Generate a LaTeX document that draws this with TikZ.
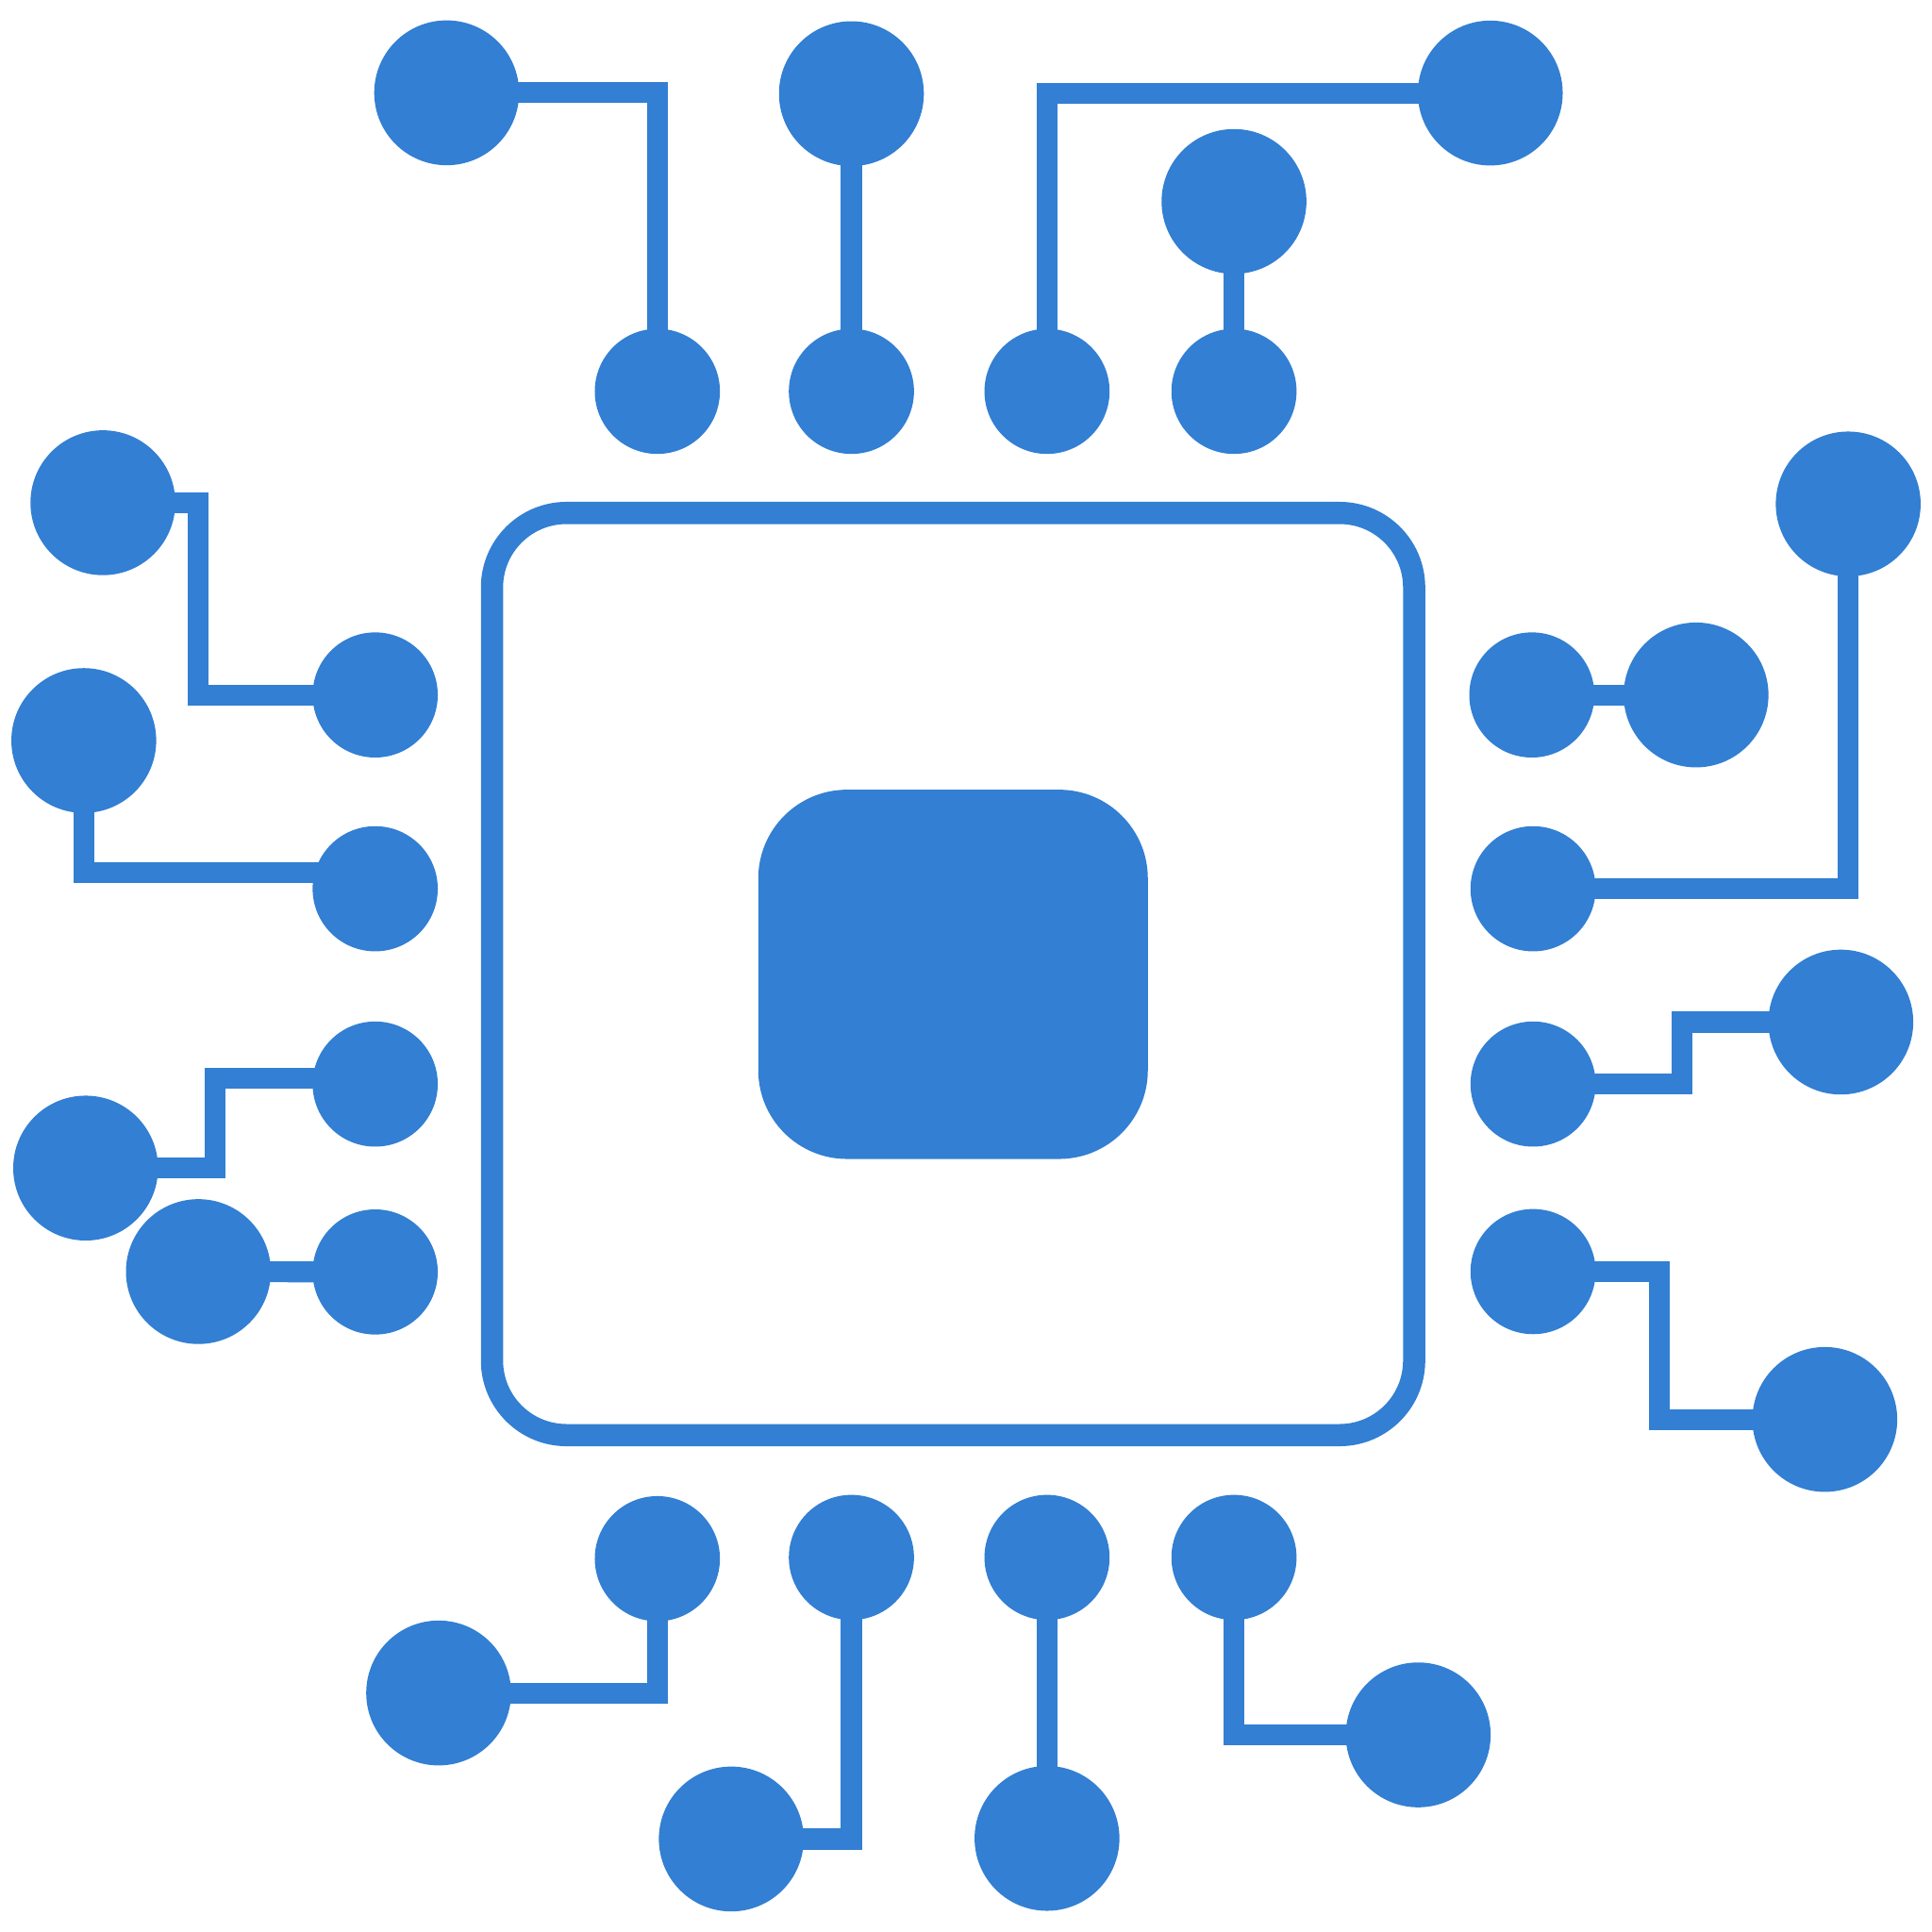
\documentclass[tikz,border=0pt]{standalone}
\definecolor{chipblue}{HTML}{327FD3}
\tikzset{
  bigpad/.style={circle,fill=chipblue,draw=none,minimum size=1.175cm,inner sep=0pt},
  smallpad/.style={circle,fill=chipblue,draw=none,minimum size=1.015cm,inner sep=0pt},
  wire/.style={draw=chipblue,line width=0.17cm,line join=miter,line cap=butt},
}
\begin{document}
\begin{tikzpicture}[x=0.01cm,y=-0.01cm]
\useasboundingbox (0,0) rectangle (1568,1568);
% chip
\node[draw=chipblue,line width=0.18cm,rounded corners=0.605cm,minimum width=7.48cm,minimum height=7.48cm,inner sep=0pt,outer sep=0pt] (chip) at (773.5,790.5) {};
\node[fill=chipblue,rounded corners=0.72cm,minimum width=3.16cm,minimum height=2.995cm,inner sep=0pt,outer sep=0pt] (core) at (773.5,790.75) {};
% top pads
\node[bigpad] (t1) at (362.5,75.3) {};
\node[bigpad] (t2) at (691,76) {};
\node[bigpad] (t3) at (1209.5,75.5) {};
\node[bigpad] (t4) at (1001.5,163.5) {};
\node[smallpad] (ts1) at (533.5,317.6) {};
\node[smallpad] (ts2) at (691,317.6) {};
\node[smallpad] (ts3) at (849.75,317.6) {};
\node[smallpad] (ts4) at (1001.5,317.6) {};
% left pads
\node[bigpad] (l1) at (83.5,408) {};
\node[bigpad] (l2) at (68,601) {};
\node[bigpad] (l3) at (69.5,948) {};
\node[bigpad] (l4) at (161,1032) {};
\node[smallpad] (ls1) at (304.5,564) {};
\node[smallpad] (ls2) at (304.5,721.3) {};
\node[smallpad] (ls3) at (304.5,879.8) {};
\node[smallpad] (ls4) at (304.5,1032.3) {};
% right pads
\node[bigpad] (r1) at (1376.5,564) {};
\node[bigpad] (r2) at (1500,409) {};
\node[bigpad] (r3) at (1494,829.5) {};
\node[bigpad] (r4) at (1481,1152) {};
\node[smallpad] (rs1) at (1243.25,564) {};
\node[smallpad] (rs2) at (1244.25,721.3) {};
\node[smallpad] (rs3) at (1244.25,879.8) {};
\node[smallpad] (rs4) at (1244.25,1032) {};
% bottom pads
\node[bigpad] (b1) at (356,1374) {};
\node[bigpad] (b2) at (593.5,1492.5) {};
\node[bigpad] (b3) at (849.75,1492) {};
\node[bigpad] (b4) at (1151,1408) {};
\node[smallpad] (bs1) at (533.5,1265) {};
\node[smallpad] (bs2) at (691,1264) {};
\node[smallpad] (bs3) at (849.75,1264) {};
\node[smallpad] (bs4) at (1001.5,1264) {};
% helper points where traces enter pads off-centre
\coordinate (w1) at (304.5,708);
\coordinate (w2) at (304.5,875);
% connectors
\draw[wire] (t1.center) -| (ts1.center);
\draw[wire] (t2.center) -- (ts2.center);
\draw[wire] (t3.center) -| (ts3.center);
\draw[wire] (t4.center) -- (ts4.center);
\draw[wire] (l1.center) -| (160.75,564) -- (ls1.center);
\draw[wire] (l2.center) |- (w1);
\draw[wire] (l3.center) -| (174.75,875) -- (w2);
\draw[wire] (l4.center) -- (ls4.center);
\draw[wire] (r1.center) -- (rs1.center);
\draw[wire] (r2.center) |- (rs2.center);
\draw[wire] (r3.center) -| (1365,879.8) -- (rs3.center);
\draw[wire] (r4.center) -| (1347,1032) -- (rs4.center);
\draw[wire] (b1.center) -| (bs1.center);
\draw[wire] (b2.center) -| (bs2.center);
\draw[wire] (b3.center) -- (bs3.center);
\draw[wire] (b4.center) -| (bs4.center);
\end{tikzpicture}
\end{document}
